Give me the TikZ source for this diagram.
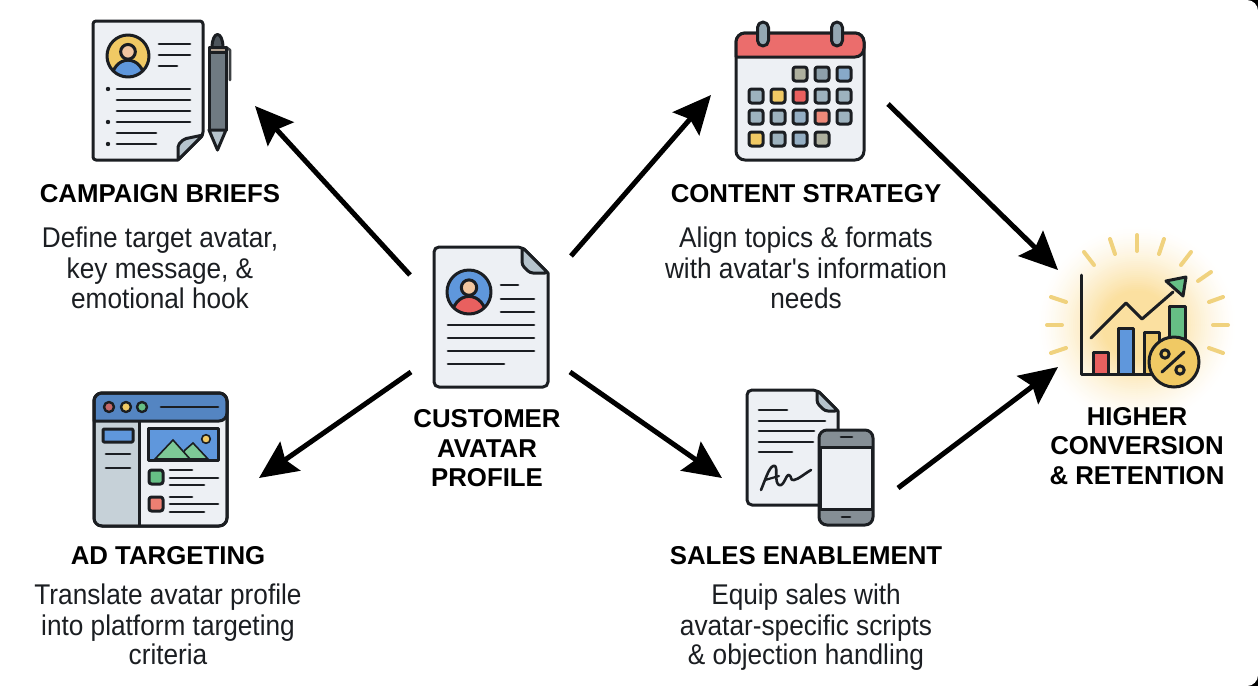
\documentclass[tikz,border=0pt]{standalone}
\usepackage{fontspec}
\setmainfont{Liberation Sans}
\newfontfamily\bodyf[FakeStretch=0.92]{Liberation Sans}
\newfontfamily\headf{Liberation Sans}[BoldFont={Liberation Sans Bold}]
\usetikzlibrary{arrows.meta,shapes.geometric}
\definecolor{ink}{HTML}{1B1E22}
\definecolor{paper}{HTML}{EDF0F4}
\definecolor{foldc}{HTML}{B5C3CC}
\definecolor{cblue}{HTML}{5F97DC}
\definecolor{cred}{HTML}{E9605F}
\definecolor{cyel}{HTML}{F0C964}
\definecolor{cgrn}{HTML}{66BF85}
\definecolor{cskin}{HTML}{F2C6A0}
\definecolor{cgray}{HTML}{6F7A82}
\definecolor{cell}{HTML}{9DB2BE}
\definecolor{ray}{HTML}{F0D27E}
\definecolor{glow}{HTML}{FBE0A0}
\tikzset{
  x=1pt,y=-1pt,
  ic/.style={draw=ink,line width=3pt,line join=round},
  tl/.style={draw=ink,line width=2.7pt,line cap=round},
  flow/.style={draw=black,line width=5pt,-{Stealth[length=38pt,width=35pt,inset=6pt]}},
  head/.style={font=\headf\fontsize{25.8}{30}\selectfont\bfseries,text=black,inner sep=0pt,anchor=base},
  body/.style={font=\bodyf\fontsize{28.5}{30}\selectfont,text=ink,inner sep=0pt,anchor=base},
  raystroke/.style={draw=ray,line width=4pt,line cap=round},
}
\newcommand{\tline}[3]{\draw[tl] (#1,#3) -- (#2,#3);}
\newcommand{\avatar}[6]{% x y r ring shoulders skin
  \begin{scope}
    \fill[#4] (#1,#2) circle (#3);
    \clip (#1,#2) circle (#3);
    \draw[ic,fill=#5] (#1-0.8*#3,#2+1.25*#3) .. controls (#1-0.8*#3,#2-0.15*#3) and (#1+0.8*#3,#2-0.15*#3) .. (#1+0.8*#3,#2+1.25*#3) -- cycle;
    \draw[ic,fill=#6] (#1,#2-0.2*#3) circle (0.35*#3);
  \end{scope}
  \draw[ic] (#1,#2) circle (#3);
}
\newcommand{\calcell}[3]{\draw[ic,fill=#3,rounded corners=2.5pt] (#1-7,#2-7) rectangle (#1+7,#2+7);}
\begin{document}
\begin{tikzpicture}
\useasboundingbox (0,0) rectangle (1258,686);
\fill[black] (1240,0) rectangle (1258,18);
\fill[black] (1240,668) rectangle (1258,686);
\fill[white,rounded corners=11pt] (-30,0) -- (1258,0) -- (1258,686) -- (-30,686) -- cycle;

% --- anchors of the connectors
\coordinate (hubNW) at (410,275);
\coordinate (hubNE) at (571,256);
\coordinate (hubSW) at (411,372);
\coordinate (hubSE) at (570,372);
\coordinate (briefIn) at (255,106);
\coordinate (contentIn) at (711,95);
\coordinate (adIn) at (259,478);
\coordinate (salesIn) at (722,478);
\coordinate (contentOut) at (888,104);
\coordinate (salesOut) at (898,488);
\coordinate (goalTop) at (1058,270);
\coordinate (goalBot) at (1058,367);

% --- glow
\foreach \r in {100,98,...,28} {
  \pgfmathsetmacro{\mixv}{min(100,100*pow((100-\r)/65,1.4))}
  \fill[glow!\mixv!white] (1137,325) circle (\r);
}
\foreach \a/\b/\c/\d in {1137/235/1137/251, 1110/239/1115/254, 1084/252/1094/265, 1051/297/1066/302, 1047/325/1062/325, 1051/353/1066/348,
  1164/239/1159/254, 1191/252/1181/265, 1211/272/1198/281, 1223/297/1209/302, 1228/325/1213/325, 1223/353/1209/348}
  {\draw[raystroke] (\a,\b) -- (\c,\d);}

% --- campaign brief icon
\draw[ic,fill=paper,rounded corners=3pt] (93,21) -- (203,21) -- (203,135) [sharp corners] -- (178,160) [rounded corners=3pt] -- (93,160) -- cycle;
\draw[ic,fill=foldc,rounded corners=2pt] (203,135) -- (184,139) -- (178,145) -- (178,160) -- cycle;
\avatar{128}{56}{21}{cyel}{cblue}{cskin}
\tline{159}{190}{44}\tline{159}{190}{55}\tline{159}{177}{66}
\tline{117}{190}{89}\tline{117}{190}{100}\tline{117}{190}{111}\tline{117}{190}{122}\tline{117}{156}{133}\tline{117}{156}{144}
\fill[ink] (108,89) circle (2.2) (108,122) circle (2.2) (108,144) circle (2.2);
\draw[draw=ink!85!white,line width=2.6pt,line cap=round,line join=round] (226,47) -- (230,50) -- (230,80);
\draw[ic,fill=cgray!60!ink] (212,48) .. controls (212,30) and (223,30) .. (223,48) -- cycle;
\draw[ic,fill=cgray] (209,47) rectangle (226,130);
\draw[ic,fill=cskin!50!cgray] (209,47) rectangle (226,52);
\draw[ic,fill=foldc] (209,130) -- (226,130) -- (217.5,150) -- cycle;

% --- calendar icon
\draw[ic,fill=paper,rounded corners=9pt] (736,33) rectangle (864,160);
\draw[ic,fill=cred!92!white] (736,57) [rounded corners=9pt] -- (736,33) -- (864,33) -- (864,57) [sharp corners] -- cycle;
\draw[ic,fill=cell!80!cgray,rounded corners=5.5pt] (757.5,22) rectangle (768.5,46);
\draw[ic,fill=cell!80!cgray,rounded corners=5.5pt] (831.5,22) rectangle (842.5,46);
\foreach \x/\y/\c in {800/74/cell!70!cyel!85!gray, 822/74/cell!90!black, 844/74/cell!65!cblue,
  756/96/cell, 778/96/cyel, 800/96/cred, 822/96/cell, 844/96/cell,
  756/117/cell, 778/117/cell, 800/117/cell!85!cblue, 822/117/cred!60!cskin, 844/117/cell,
  756/139/cyel, 778/139/cell, 800/139/cell!85!cblue, 822/139/cell!70!cyel!85!gray}
  {\calcell{\x}{\y}{\c}}

% --- hub document icon
\draw[ic,fill=paper,rounded corners=5pt] (434,247) -- (522,247) [sharp corners] -- (548,273) [rounded corners=5pt] -- (548,387) -- (434,387) -- cycle;
\draw[ic,fill=foldc,rounded corners=3pt] (522,247) -- (522,265) -- (530,273) -- (548,273) -- cycle;
\avatar{469}{292}{22}{cblue}{cred}{cskin}
\tline{501}{518}{285}\tline{501}{534}{299}\tline{501}{534}{312}
\tline{448}{534}{325}\tline{448}{534}{338}\tline{448}{534}{351}\tline{448}{504}{364}

% --- ad targeting icon
\draw[ic,fill=paper,rounded corners=8pt] (94,393) rectangle (227,526);
\fill[foldc!70!paper] (96,421) rectangle (139,524);
\draw[ic,fill=cblue!88!black] (94,421) [rounded corners=8pt] -- (94,393) -- (227,393) -- (227,421) [sharp corners] -- cycle;
\draw[ic,rounded corners=8pt] (94,393) rectangle (227,526);
\draw[ic] (139,421) -- (139,526);
\draw[ic,line width=2.4pt,fill=cred!70!cgray] (109,407) circle (5);
\draw[ic,line width=2.4pt,fill=cyel] (126,407) circle (5);
\draw[ic,line width=2.4pt,fill=cgrn] (142,407) circle (5);
\tline{161}{218}{407}
\draw[ic,fill=cblue,rounded corners=1pt] (103,429) rectangle (133,442);
\tline{106}{130}{454}\tline{106}{130}{468}
\fill[cblue] (148,428) rectangle (218,460);
\draw[draw=ink,line width=1.6pt,fill=cgrn!85!white] (185,450) -- (193,443) -- (208,459) -- (180,459) -- cycle;
\draw[draw=ink,line width=1.6pt,fill=cgrn!85!white] (155,459) -- (173,440) -- (190,459) -- cycle;
\draw[draw=ink,line width=1.6pt,fill=cyel] (206,439) circle (4.3);
\draw[ic] (148,428) rectangle (218,460);
\draw[ic,fill=cgrn,rounded corners=2.5pt] (149,470) rectangle (163,484);
\draw[ic,fill=cred!70!cskin,rounded corners=2.5pt] (149,497) rectangle (163,511);
\tline{170}{192}{470}\tline{170}{218}{478}\tline{170}{204}{485}
\tline{170}{192}{497}\tline{170}{218}{504}\tline{170}{204}{512}

% --- sales icon
\draw[ic,fill=paper,rounded corners=5pt] (747,390) -- (817,390) [sharp corners] -- (838,411) [rounded corners=5pt] -- (838,505) -- (747,505) -- cycle;
\draw[ic,fill=foldc,rounded corners=3pt] (817,390) -- (817,403) -- (825,411) -- (838,411) -- cycle;
\tline{759}{787}{410}\tline{759}{825}{421}\tline{759}{814}{431}\tline{759}{813}{442}\tline{759}{792}{452}
\draw[draw=ink,line width=2.6pt,line cap=round,line join=round]
  (761,490) .. controls (766,478) and (770,464) .. (775,466)
  .. controls (778,468) and (774,482) .. (779,485)
  .. controls (784,487) and (786,474) .. (789,475)
  .. controls (792,476) and (790,481) .. (794,480)
  .. controls (799,479) and (804,474) .. (811,470);
\draw[draw=ink,line width=2.2pt,line cap=round] (765,480) -- (779,476);
\draw[ic,fill=cgray!85!white,rounded corners=8pt] (819,430) rectangle (873,525);
\draw[ic,fill=paper] (820,447) rectangle (872,509);
\draw[tl] (841,437) -- (852,437);
\draw[tl] (842,517) -- (850,517);

% --- result chart icon
\draw[ic,fill=cred] (1093,374) |- (1108,352) -- (1108,374);
\draw[ic,fill=cblue] (1118,374) |- (1133,328) -- (1133,374);
\draw[ic,fill=cyel!90!cskin] (1144,374) |- (1159,332) -- (1159,374);
\draw[ic,fill=cgrn] (1169,345) |- (1185,306) -- (1185,345);
\draw[ic,line cap=round] (1081,275) -- (1081,374) -- (1152,374);
\draw[ic,line cap=round] (1091,338) -- (1126,303) -- (1142,319) -- (1173,292);
\draw[ic,fill=cgrn] (1166,281) -- (1186,277) -- (1183,296) -- cycle;
\draw[ic,fill=cyel] (1174,362) circle (25);
\draw[ic,line cap=round] (1162,372) -- (1184,352);
\draw[ic] (1165,354) circle (4.2);
\draw[ic] (1180,370) circle (4.2);

% --- connectors
\draw[flow] (hubNW) -- (briefIn);
\draw[flow] (hubNE) -- (contentIn);
\draw[flow] (hubSW) -- (adIn);
\draw[flow] (hubSE) -- (salesIn);
\draw[flow] (contentOut) -- (goalTop);
\draw[flow] (salesOut) -- (goalBot);

% --- texts
\node[head] (briefT) at (160,202) {CAMPAIGN BRIEFS};
\node[body] (briefA) at (160,247) {Define target avatar,};
\node[body] (briefB) at (160,278) {key message, \&};
\node[body] (briefC) at (160,308) {emotional hook};
\node[head] (contT) at (806,202) {CONTENT STRATEGY};
\node[body] (contA) at (806,247) {Align topics \& formats};
\node[body] (contB) at (806,278) {with avatar's information};
\node[body] (contC) at (806,308) {needs};
\node[head] (hubA) at (487,427) {CUSTOMER};
\node[head] (hubB) at (487,457) {AVATAR};
\node[head] (hubC) at (487,486) {PROFILE};
\node[head] (adT) at (168,564) {AD TARGETING};
\node[body] (adA) at (168,604) {Translate avatar profile};
\node[body] (adB) at (168,635) {into platform targeting};
\node[body] (adC) at (168,664) {criteria};
\node[head] (salT) at (806,564) {SALES ENABLEMENT};
\node[body] (salA) at (806,604) {Equip sales with};
\node[body] (salB) at (806,635) {avatar-specific scripts};
\node[body] (salC) at (806,664) {\& objection handling};
\node[head] (goalA) at (1137,425) {HIGHER};
\node[head] (goalB) at (1137,454) {CONVERSION};
\node[head] (goalC) at (1137,484) {\& RETENTION};
\end{tikzpicture}
\end{document}
